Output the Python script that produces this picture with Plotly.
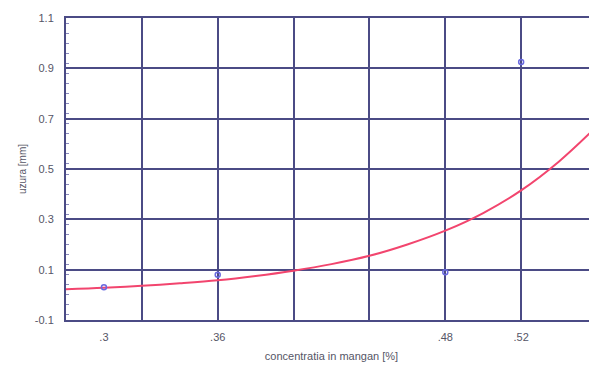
import plotly.graph_objects as go

# measured points
pts_x = [0.30, 0.36, 0.48, 0.52]
pts_y = [0.03, 0.08, 0.09, 0.925]

# fitted curve
curve_x = [0.28, 0.30, 0.32, 0.34, 0.36, 0.38, 0.40, 0.42, 0.44, 0.46, 0.48, 0.50, 0.52, 0.54, 0.56]
curve_y = [0.022, 0.028, 0.036, 0.046, 0.058, 0.075, 0.096, 0.122, 0.155, 0.20, 0.255, 0.325, 0.415, 0.53, 0.67]

x_tickvals = [0.30, 0.36, 0.48, 0.52]
x_ticktext = [".3", ".36", ".48", ".52"]
y_tickvals = [-0.1, 0.1, 0.3, 0.5, 0.7, 0.9, 1.1]
y_ticktext = ["-0.1", "0.1", "0.3", "0.5", "0.7", "0.9", "1.1"]

grid_col = "#4b4b85"
font = dict(family="Liberation Sans, Arial, sans-serif", size=11, color="#555566")

fig = go.Figure()
fig.add_trace(go.Scatter(x=curve_x, y=curve_y, mode="lines",
                         line=dict(color="#f2456e", width=2, shape="spline"),
                         hoverinfo="skip"))
fig.add_trace(go.Scatter(x=pts_x, y=pts_y, mode="markers",
                         marker=dict(symbol="circle-open", size=5,
                                     color="#6a6ae0", line=dict(width=1.5))))

fig.update_layout(
    width=597, height=371,
    margin=dict(l=58, r=8, t=10, b=59),
    paper_bgcolor="white", plot_bgcolor="white",
    showlegend=False,
    font=font,
    xaxis=dict(range=[0.28, 0.56], tickvals=x_tickvals, ticktext=x_ticktext,
               showgrid=False, zeroline=False, ticks="", automargin=False,
               showline=True, linecolor=grid_col, linewidth=2, mirror=True,
               ticklabelstandoff=6,
               minor=dict(tick0=0.28, dtick=0.04, showgrid=True,
                          gridcolor=grid_col, gridwidth=1.5, ticks=""),
               title=dict(text="concentratia in mangan [%]", standoff=10,
                          font=dict(size=11, color="#555566"))),
    yaxis=dict(range=[-0.1, 1.1], tickvals=y_tickvals, ticktext=y_ticktext,
               showgrid=True, gridcolor=grid_col, gridwidth=1.5,
               zeroline=False, ticks="", automargin=False,
               showline=True, linecolor=grid_col, linewidth=2, mirror=True,
               ticklabelstandoff=8,
               minor=dict(dtick=0.04, ticks="inside", ticklen=3,
                          tickcolor="#8888bb", showgrid=False),
               title=dict(text="uzura [mm]", standoff=6,
                          font=dict(size=10, color="#555566"))),
)

fig.write_html("out.html")
